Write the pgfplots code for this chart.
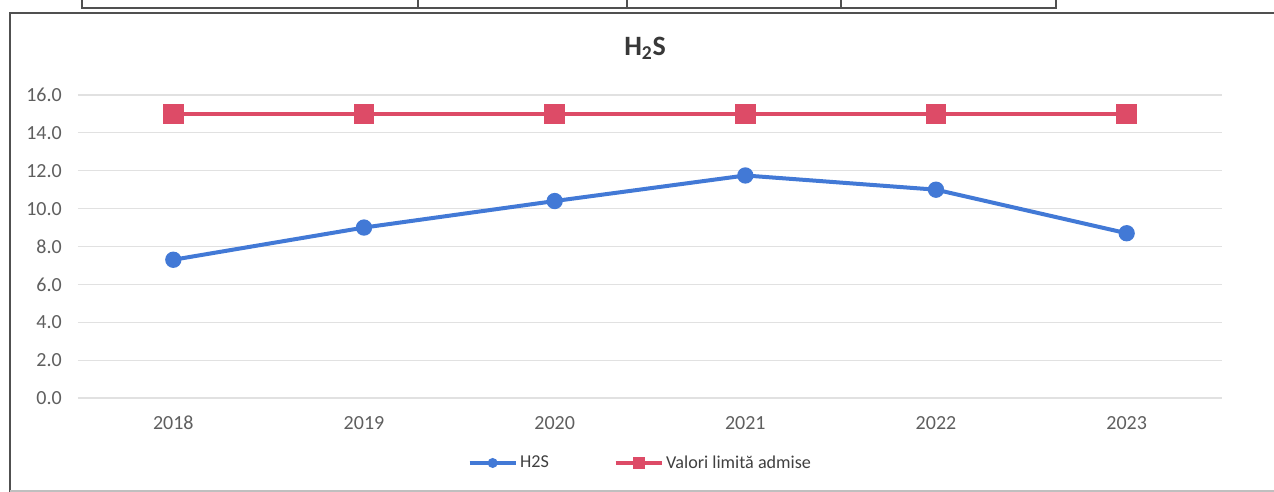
\documentclass[border=0pt]{standalone}
\usepackage{fontspec}
\setmainfont{Carlito}
\usepackage{pgfplots}
\pgfplotsset{compat=1.18}
\definecolor{h2sblue}{RGB}{66,121,214}
\definecolor{limred}{RGB}{221,75,103}
\definecolor{tickgray}{RGB}{95,95,95}
\definecolor{gridgray}{RGB}{225,225,225}
\definecolor{framegray}{RGB}{80,80,80}
\begin{document}
\begin{tikzpicture}
\path[use as bounding box, fill=white] (0pt,0pt) rectangle (955.5pt,369pt);
% fragment of the table above
\draw[line width=1.4pt, framegray] (61.5pt,372.75pt) -- (61.5pt,363pt) -- (792pt,363pt) -- (792pt,372.75pt);
\foreach \xx in {313.5,470.25,630.75} \draw[line width=1.1pt, framegray] (\xx pt,372.75pt) -- (\xx pt,363pt);
% chart frame
\draw[line width=1.4pt, framegray] (7.5pt,-6pt) -- (7.5pt,359.25pt) -- (967.5pt,359.25pt);
\draw[line width=0.8pt, black!25] (7.5pt,0.75pt) -- (967.5pt,0.75pt);
% title
\node[font=\bfseries\fontsize{21}{24}\selectfont, text=black!78] at (483.75pt,333pt) {H\textsubscript{2}S};
\begin{axis}[
  at={(58.5pt,70.5pt)}, anchor=south west,
  scale only axis, width=858pt, height=227.25pt,
  xmin=-0.5, xmax=5.5, ymin=0, ymax=16,
  xtick={0,1,2,3,4,5},
  xticklabels={2018,2019,2020,2021,2022,2023},
  ytick={0,2,4,6,8,10,12,14,16},
  yticklabel={\pgfmathprintnumber[fixed,fixed zerofill,precision=1]{\tick}},
  /pgf/number format/assume math mode=true,
  axis line style={draw=none},
  major tick length=0pt,
  ymajorgrids,
  grid style={gridgray, line width=0.9pt},
  tick label style={font=\fontsize{15}{18}\selectfont, text=tickgray},
  xticklabel style={anchor=base, yshift=-23.5pt},
  yticklabel style={anchor=east, inner sep=0pt, xshift=-12pt},
  legend style={at={(0.492,-0.2145)}, anchor=center, draw=none, fill=none,
    font=\fontsize{13.6}{16}\selectfont, text=black!75,
    legend columns=2,
    /tikz/every even column/.append style={column sep=47pt}},
  legend image code/.code={\draw[mark repeat=2,mark phase=2] plot coordinates {(0cm,0cm) (0.61cm,0cm) (1.22cm,0cm)};},
  every legend image post/.style={mark options={scale=0.55}, line width=2.3pt},
]
\addplot[color=h2sblue, line width=3pt, mark=*, mark size=4.6pt] coordinates {
  (0,7.3) (1,9.0) (2,10.4) (3,11.75) (4,11.0) (5,8.7)};
\addlegendentry{H2S}
\addplot[color=limred, line width=3pt, mark=square*, mark size=6.2pt] coordinates {
  (0,15) (1,15) (2,15) (3,15) (4,15) (5,15)};
\addlegendentry{Valori limită admise}
\end{axis}
\end{tikzpicture}
\end{document}
